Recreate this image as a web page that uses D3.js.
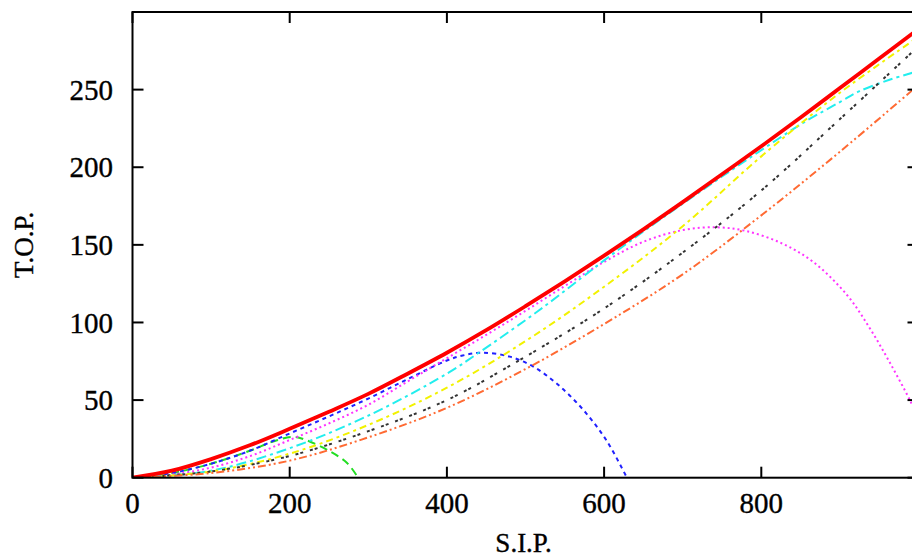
<!DOCTYPE html>
<html>
<head>
<meta charset="utf-8">
<script src="https://cdn.jsdelivr.net/npm/d3@7"></script>
<style>
  body { margin: 0; background: #fff; }
  svg { display: block; }
  text { font-family: "Liberation Serif", "DejaVu Serif", serif; fill: #000; stroke: #000; stroke-width: 0.35px; }
</style>
</head>
<body>
<svg id="chart" width="912" height="558"></svg>
<script>
// values (S.I.P. -> T.O.P.)
const sipEnvelope = [0,50,100,150,200,250,300,350,400,450,500,550,600,650,700,750,800,850,900,950,1000];
const topEnvelope = [0,4.5,12,21,31.5,42.5,54,67,80.5,95,110.5,126.5,143,160,177.5,195.5,213.5,232,251,270,289];

const sipGreen = [0,50,100,150,180,205,222,251,273,287];
const topGreen = [0,3,9,17.5,23.5,26.3,24,17,9.5,0];

const sipBlue = [0,50,100,150,200,250,300,350,400,420,444,480,510,540,573,603,629];
const topBlue = [0,3,9,17.5,28.5,39.5,51,63.5,75.5,78.7,80.5,78,71.5,60.5,44,24,0];

const sipMagenta = [0,50,100,150,200,250,300,350,400,450,500,550,600,650,700,743,780,826,866,909,938,964,989,1000];
const topMagenta = [0,2,6.5,14,24.3,35,47,62,77,92,107.5,123.5,139,152,159.5,161.3,159,151,139,117.7,96.3,73.7,50,38];

const sipCyan = [0,100,200,300,400,442,500,531,582,600,658,700,750,800,853,900,925,964,1000];
const topCyan = [0,4.5,19,40,67,81,101.5,113,133,140,161.5,176.5,194,211,228.5,242,249,256.5,262];

const sipYellow = [0,100,200,300,400,500,600,700,800,900,1000];
const topYellow = [0,4,15.5,34,58,88,123,162,207,248,284];

const sipBlack = [0,100,200,300,400,500,600,700,800,900,1000];
const topBlack = [0,4,14,30,50,78,109,145,185,231,278];

const sipOrange = [0,100,200,300,400,500,600,700,800,900,1000];
const topOrange = [0,3,11,26,45,70,99,131,169,210,253];

const xTicks = [0,200,400,600,800];
const yTicks = [0,50,100,150,200,250];

const svg = d3.select("#chart");
const m = {left: 132.5, top: 12, right: 918.5, bottom: 477.7};

const x = d3.scaleLinear().domain([0, 1000]).range([m.left, m.right]);
const y = d3.scaleLinear().domain([0, 300]).range([m.bottom, m.top]);

svg.append("defs").append("clipPath").attr("id", "plotclip")
    .append("rect")
    .attr("x", m.left).attr("y", m.top)
    .attr("width", m.right - m.left).attr("height", m.bottom - m.top);

// curves, envelope last so it sits on top
const series = [
    {s: sipGreen,   t: topGreen,   color: "#22dd22", width: 2, dash: "8,5"},
    {s: sipBlue,    t: topBlue,    color: "#2020ff", width: 2, dash: "4,4"},
    {s: sipMagenta, t: topMagenta, color: "#ff33ff", width: 2, dash: "2,3"},
    {s: sipCyan,    t: topCyan,    color: "#22eeee", width: 2, dash: "10,4,3,4"},
    {s: sipYellow,  t: topYellow,  color: "#f2f200", width: 2, dash: "7,4,3,4"},
    {s: sipBlack,   t: topBlack,   color: "#333333", width: 2, dash: "3,2,3,7"},
    {s: sipOrange,  t: topOrange,  color: "#ff6a33", width: 2, dash: "8,3,2,3,2,3"},
    {s: sipEnvelope, t: topEnvelope, color: "#ff0000", width: 3.8, dash: null}
];

const line = d3.line()
    .x(d => x(d[0]))
    .y(d => y(d[1]))
    .curve(d3.curveCatmullRom.alpha(0.5));

const plot = svg.append("g").attr("clip-path", "url(#plotclip)");
series.forEach(function(d) {
    plot.append("path")
        .datum(d3.zip(d.s, d.t))
        .attr("d", line)
        .attr("fill", "none")
        .attr("stroke", d.color)
        .attr("stroke-width", d.width)
        .attr("stroke-dasharray", d.dash);
});

// frame and mirrored inward ticks (gnuplot style)
const tickLen = 11;
const axes = svg.append("g").attr("stroke", "#000").attr("stroke-width", 2);
axes.append("rect")
    .attr("x", m.left).attr("y", m.top)
    .attr("width", m.right - m.left).attr("height", m.bottom - m.top)
    .attr("fill", "none");

xTicks.forEach(function(v) {
    axes.append("line").attr("x1", x(v)).attr("x2", x(v)).attr("y1", m.bottom).attr("y2", m.bottom - tickLen);
    axes.append("line").attr("x1", x(v)).attr("x2", x(v)).attr("y1", m.top).attr("y2", m.top + tickLen);
});
yTicks.forEach(function(v) {
    axes.append("line").attr("x1", m.left).attr("x2", m.left + tickLen).attr("y1", y(v)).attr("y2", y(v));
    axes.append("line").attr("x1", m.right).attr("x2", m.right - tickLen).attr("y1", y(v)).attr("y2", y(v));
});

const fs = 29;
svg.append("g").selectAll("text").data(xTicks).join("text")
    .attr("x", d => x(d))
    .attr("y", 513)
    .attr("text-anchor", "middle")
    .attr("font-size", fs)
    .text(d => d);

svg.append("g").selectAll("text").data(yTicks).join("text")
    .attr("x", 113)
    .attr("y", d => y(d))
    .attr("dy", "0.35em")
    .attr("text-anchor", "end")
    .attr("font-size", fs)
    .text(d => d);

svg.append("text")
    .attr("x", (m.left + m.right) / 2 - 2)
    .attr("y", 552)
    .attr("text-anchor", "middle")
    .attr("font-size", 27)
    .text("S.I.P.");

svg.append("text")
    .attr("transform", "translate(33," + ((m.top + m.bottom) / 2) + ") rotate(-90)")
    .attr("text-anchor", "middle")
    .attr("font-size", 27)
    .text("T.O.P.");
</script>
</body>
</html>
